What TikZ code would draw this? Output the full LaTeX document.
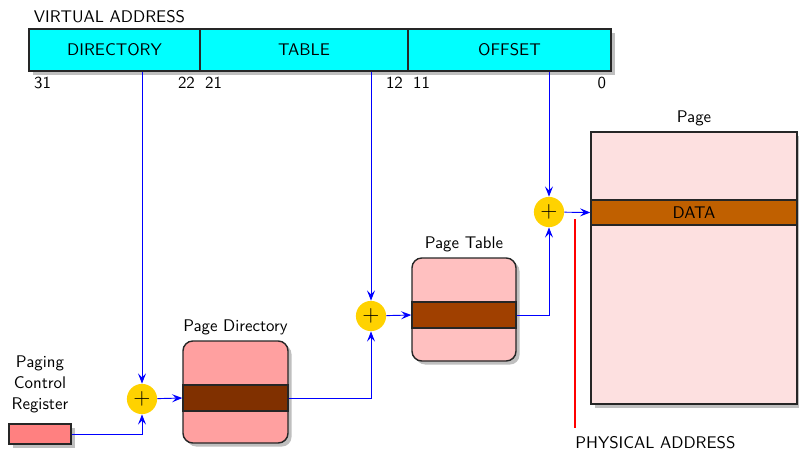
\documentclass[tikz,border=0pt]{standalone}
\usepackage{xcolor}
\usetikzlibrary{arrows.meta,positioning,fit,shadows}

\definecolor{addrcyan}{RGB}{0,255,255}
\definecolor{addergold}{RGB}{255,210,0}
\definecolor{regpink}{RGB}{255,128,128}
\definecolor{pdpink}{RGB}{255,160,160}
\definecolor{ptpink}{RGB}{255,192,192}
\definecolor{pagepink}{RGB}{253,224,224}
\definecolor{pdbrown}{RGB}{128,48,0}
\definecolor{ptbrown}{RGB}{160,64,0}
\definecolor{databrown}{RGB}{192,96,0}
\definecolor{physred}{RGB}{255,0,0}

\begin{document}
\begin{tikzpicture}[x=0.0225cm, y=-0.0225cm, font=\sffamily\fontsize{10.8}{13.4}\selectfont,
    boxshadow/.style={drop shadow={shadow xshift=0.08cm, shadow yshift=-0.08cm, opacity=0.25, fill=black}},
    field/.style={rectangle, draw=black!85, line width=0.9pt, fill=addrcyan, inner sep=0pt, boxshadow},
    bit/.style={inner sep=3.5pt},
    adder/.style={circle, fill=addergold, minimum size=0.68cm, inner sep=0pt, font=\Large},
    reg/.style={rectangle, draw=black!85, line width=0.9pt, fill=regpink, inner sep=0pt, boxshadow},
    pdir/.style={rectangle, draw=black!85, line width=0.9pt, fill=pdpink, inner sep=0pt, rounded corners=0.22cm, boxshadow},
    pagebox/.style={rectangle, draw=black!85, line width=0.9pt, fill=pagepink, inner sep=0pt, boxshadow},
    band/.style={rectangle, draw=black!85, line width=0.9pt, inner sep=0pt},
    link/.style={blue, line width=0.6pt, -{Stealth[length=2.3mm, width=1.8mm, inset=0.9mm]}}
]
\useasboundingbox (0,0) rectangle (799,450);

% virtual address
\node[field, fit={(29,29) (200,71)}, label=center:DIRECTORY] (dir) {};
\node[field, fit={(200,29) (408,71)}, label=center:TABLE] (tab) {};
\node[field, fit={(408,29) (611,71)}, label=center:OFFSET] (off) {};
\node[anchor=south west] (va) at (dir.north west) {VIRTUAL ADDRESS};

\node[bit, anchor=north west] (b31) at (dir.south west) {31};
\node[bit, anchor=north east] (b22) at (dir.south east) {22};
\node[bit, anchor=north west] (b21) at (tab.south west) {21};
\node[bit, anchor=north east] (b12) at (tab.south east) {12};
\node[bit, anchor=north west] (b11) at (off.south west) {11};
\node[bit, anchor=north east] (b0) at (off.south east) {0};

% adders
\node[adder] (c1) at (142,399) {$+$};
\node[adder] (c2) at (371,316) {$+$};
\node[adder] (c3) at (549,212) {$+$};

% tables
\node[reg, fit={(9,424) (71,444)}, label={[align=center, label distance=3pt]above:{Paging\\Control\\Register}}] (pcr) {};

\node[pdir, fit={(183,341) (288,443)}, label=above:Page Directory] (pd) {};
\node[band, fill=pdbrown, fit={(183,385) (288,411)}] (pdrow) {};

\node[pdir, fill=ptpink, fit={(412,258) (516,361)}, label=above:Page Table] (pt) {};
\node[band, fill=ptbrown, fit={(412,302) (516,328)}] (ptrow) {};

\node[pagebox, fit={(591,132) (797,404)}, label=above:Page] (pg) {};
\node[band, fill=databrown, fit={(591,200) (797,225)}, label=center:DATA] (data) {};

% physical address
\coordinate (pa-top) at (575,219);
\coordinate (pa-bot) at (575,428);
\draw[physred, line width=0.7pt] (pa-top) -- (pa-bot);
\node[anchor=north west, inner xsep=0pt, inner ysep=5pt] (pa) at (pa-bot) {PHYSICAL ADDRESS};

% links
\draw[link] (c1 |- dir.south) -- (c1);
\draw[link] (c2 |- tab.south) -- (c2);
\draw[link] (c3 |- off.south) -- (c3);
\draw[link] (pcr.east) -| (c1);
\draw[link] (c1) -- (pdrow.west);
\draw[link] (pdrow.east) -| (c2);
\draw[link] (c2) -- (ptrow.west);
\draw[link] (ptrow.east) -| (c3);
\draw[link] (c3) -- (data.west);

\end{tikzpicture}
\end{document}
